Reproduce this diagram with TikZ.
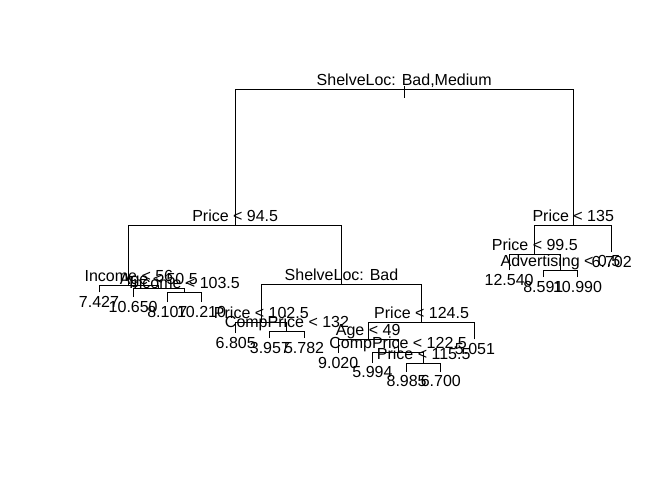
\documentclass[tikz,border=0pt]{standalone}
\usepackage{fontspec}
\setmainfont{Liberation Sans}
\usetikzlibrary{positioning}
\tikzset{
  split/.style={anchor=base,inner sep=0pt,yshift=3.8pt},
  leaflab/.style={anchor=north,inner sep=0pt,yshift=-3.5pt},
}
\begin{document}
\begin{tikzpicture}[x=1pt,y=-1pt,line width=1pt,font=\fontsize{16}{19}\selectfont]
  \useasboundingbox (0,0) rectangle (672,480);
  % split points
  \coordinate (root) at (404.2,89.7);
  \coordinate (p945) at (235.18,225.3); \coordinate (p135) at (573.25,225.3);
  \coordinate (inc56) at (128.9,285.7); \coordinate (age505) at (158.8,288.3); \coordinate (inc1035) at (184.45,292.5);
  \coordinate (shbad) at (341.47,284); \coordinate (p1025) at (261.36,322); \coordinate (cp132) at (286.99,331.7);
  \coordinate (p1245) at (421.57,322.7); \coordinate (age49) at (368.17,339); \coordinate (cp1225) at (398.08,352.7);
  \coordinate (p1155) at (423.71,363);
  \coordinate (p995) at (534.8,254.3); \coordinate (adv) at (560.43,270.7);
  % leaf ends
  \coordinate (l1) at (99,292.3); \coordinate (l2) at (133.18,297); \coordinate (l3) at (167.36,302); \coordinate (l4) at (201.54,302);
  \coordinate (l5) at (235.72,333); \coordinate (l6) at (269.9,338); \coordinate (l7) at (304.08,338);
  \coordinate (l8) at (338.26,353); \coordinate (l9) at (372.44,362.5); \coordinate (l10) at (406.62,371.5); \coordinate (l11) at (440.8,371.5);
  \coordinate (l12) at (474.98,339.3); \coordinate (l13) at (509.16,270); \coordinate (l14) at (543.34,277); \coordinate (l15) at (577.52,277);
  \coordinate (l16) at (611.7,252);
  % branches
  \draw (root) ++(0,-3.7) -- ++(0,12);
  \foreach \c/\p in {p945/root,p135/root,inc56/p945,shbad/p945,l1/inc56,age505/inc56,l2/age505,inc1035/age505,l3/inc1035,l4/inc1035,
    p1025/shbad,p1245/shbad,l5/p1025,cp132/p1025,l6/cp132,l7/cp132,age49/p1245,l12/p1245,l8/age49,cp1225/age49,
    l9/cp1225,p1155/cp1225,l10/p1155,l11/p1155,p995/p135,l16/p135,l13/p995,adv/p995,l14/adv,l15/adv}
    \draw (\c) |- (\p);
  % split labels
  \node[split] (troot) at (root) {ShelveLoc: Bad,Medium};
  \node[split] (tp945) at (p945) {Price < 94.5}; \node[split] (tp135) at (p135) {Price < 135};
  \node[split] (tinc56) at (inc56) {Income < 56}; \node[split] (tage505) at (age505) {Age < 50.5};
  \node[split] (tinc1035) at (inc1035) {Income < 103.5};
  \node[split] (tshbad) at (shbad) {ShelveLoc: Bad}; \node[split] (tp1025) at (p1025) {Price < 102.5};
  \node[split] (tcp132) at (cp132) {CompPrice < 132}; \node[split] (tp1245) at (p1245) {Price < 124.5};
  \node[split] (tage49) at (age49) {Age < 49}; \node[split] (tcp1225) at (cp1225) {CompPrice < 122.5};
  \node[split] (tp1155) at (p1155) {Price < 115.5};
  \node[split] (tp995) at (p995) {Price < 99.5}; \node[split] (tadv) at (adv) {Advertising < 0.5};
  % leaf labels
  \node[leaflab] (t1) at (l1) {7.427}; \node[leaflab] (t2) at (l2) {10.650}; \node[leaflab] (t3) at (l3) {8.107}; \node[leaflab] (t4) at (l4) {10.210};
  \node[leaflab] (t5) at (l5) {6.805}; \node[leaflab] (t6) at (l6) {3.957}; \node[leaflab] (t7) at (l7) {5.782};
  \node[leaflab] (t8) at (l8) {9.020}; \node[leaflab] (t9) at (l9) {5.994}; \node[leaflab] (t10) at (l10) {8.985}; \node[leaflab] (t11) at (l11) {6.700};
  \node[leaflab] (t12) at (l12) {5.051}; \node[leaflab] (t13) at (l13) {12.540}; \node[leaflab] (t14) at (l14) {8.591}; \node[leaflab] (t15) at (l15) {10.990};
  \node[leaflab] (t16) at (l16) {6.702};
\end{tikzpicture}
\end{document}
